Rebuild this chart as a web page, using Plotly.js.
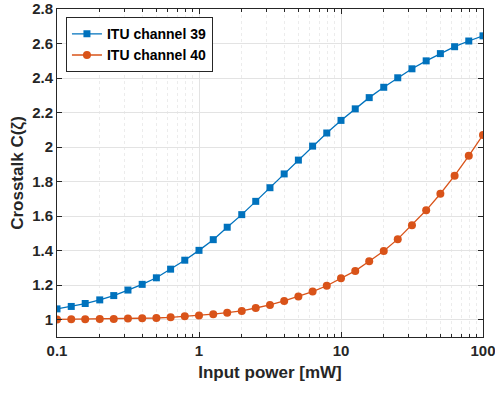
<!DOCTYPE html>
<html>
<head>
<meta charset="utf-8">
<script src="https://cdn.plot.ly/plotly-3.0.1.min.js"></script>
<style>html,body{margin:0;padding:0;background:#fff;}#chart{width:495px;height:395px;}</style>
</head>
<body>
<div id="chart"></div>
<script>
// Input power [mW], 10 points per decade
const power = [0.1, 0.126, 0.158, 0.2, 0.251, 0.316, 0.398, 0.501, 0.631, 0.794,
  1, 1.26, 1.58, 2, 2.51, 3.16, 3.98, 5.01, 6.31, 7.94,
  10, 12.6, 15.8, 20, 25.1, 31.6, 39.8, 50.1, 63.1, 79.4, 100];
const ch39 = [1.063, 1.077, 1.094, 1.115, 1.14, 1.172, 1.205, 1.243, 1.293, 1.345,
  1.402, 1.464, 1.536, 1.609, 1.686, 1.765, 1.845, 1.925, 2.006, 2.082,
  2.155, 2.222, 2.287, 2.347, 2.402, 2.454, 2.5, 2.542, 2.582, 2.615, 2.645];
const ch40 = [1.002, 1.003, 1.003, 1.004, 1.005, 1.007, 1.008, 1.01, 1.014, 1.02,
  1.024, 1.032, 1.041, 1.051, 1.068, 1.086, 1.109, 1.134, 1.163, 1.197,
  1.24, 1.283, 1.339, 1.398, 1.467, 1.548, 1.634, 1.73, 1.835, 1.95, 2.071];
const seriesNames = ['ITU channel 39', 'ITU channel 40'];
const xTickVals = [0.1, 1, 10, 100];
const xTickText = ['0.1', '1', '10', '100'];
const yTickVals = [1, 1.2, 1.4, 1.6, 1.8, 2, 2.2, 2.4, 2.6, 2.8];
const yTickText = ['1', '1.2', '1.4', '1.6', '1.8', '2', '2.2', '2.4', '2.6', '2.8'];

const font = 'Liberation Sans, Arial, sans-serif';
const traces = [
  {x: power, y: ch39, name: seriesNames[0], type: 'scatter', mode: 'lines+markers',
   line: {color: '#0072BD', width: 1.3},
   marker: {symbol: 'square', size: 7, color: '#0072BD'}},
  {x: power, y: ch40, name: seriesNames[1], type: 'scatter', mode: 'lines+markers',
   line: {color: '#D95319', width: 1.3},
   marker: {symbol: 'circle', size: 8, color: '#D95319'}}
];
const layout = {
  width: 495, height: 395,
  margin: {l: 57, r: 12, t: 9, b: 58},
  paper_bgcolor: '#fff', plot_bgcolor: '#fff',
  font: {family: font, size: 14, color: '#262626'},
  showlegend: true,
  legend: {x: 0.021, y: 0.975, xanchor: 'left', yanchor: 'top',
    bordercolor: '#262626', borderwidth: 1, bgcolor: '#fff',
    font: {family: font, size: 14, color: '#000', weight: 'bold'},
    tracegroupgap: 0},
  xaxis: {type: 'log', range: [-1, 2],
    tickvals: xTickVals, ticktext: xTickText, ticklabeloverflow: 'allow',
    ticks: 'inside', ticklen: 5, tickcolor: '#262626', tickwidth: 1,
    showline: true, linecolor: '#262626', linewidth: 1, mirror: 'ticks',
    showgrid: true, gridcolor: '#e3e3e3', gridwidth: 1, zeroline: false,
    minor: {dtick: 'D1', showgrid: true, gridcolor: '#ececec', griddash: 'dot', ticks: 'inside', ticklen: 3, tickcolor: '#262626'},
    tickfont: {family: font, size: 15, weight: 'bold', color: '#262626'},
    title: {text: 'Input power [mW]', standoff: 8, font: {family: font, size: 17, weight: 'bold', color: '#262626'}}},
  yaxis: {range: [0.9, 2.8005],
    tickvals: yTickVals, ticktext: yTickText, ticklabeloverflow: 'allow',
    ticks: 'inside', ticklen: 5, tickcolor: '#262626', tickwidth: 1,
    showline: true, linecolor: '#262626', linewidth: 1, mirror: 'ticks',
    showgrid: true, gridcolor: '#e3e3e3', gridwidth: 1, zeroline: false,
    tickfont: {family: font, size: 15, weight: 'bold', color: '#262626'},
    title: {text: 'Crosstalk C(ζ)', standoff: 4, font: {family: font, size: 17, weight: 'bold', color: '#262626'}}}
};
Plotly.newPlot('chart', traces, layout, {displayModeBar: false, staticPlot: true});
</script>
</body>
</html>
